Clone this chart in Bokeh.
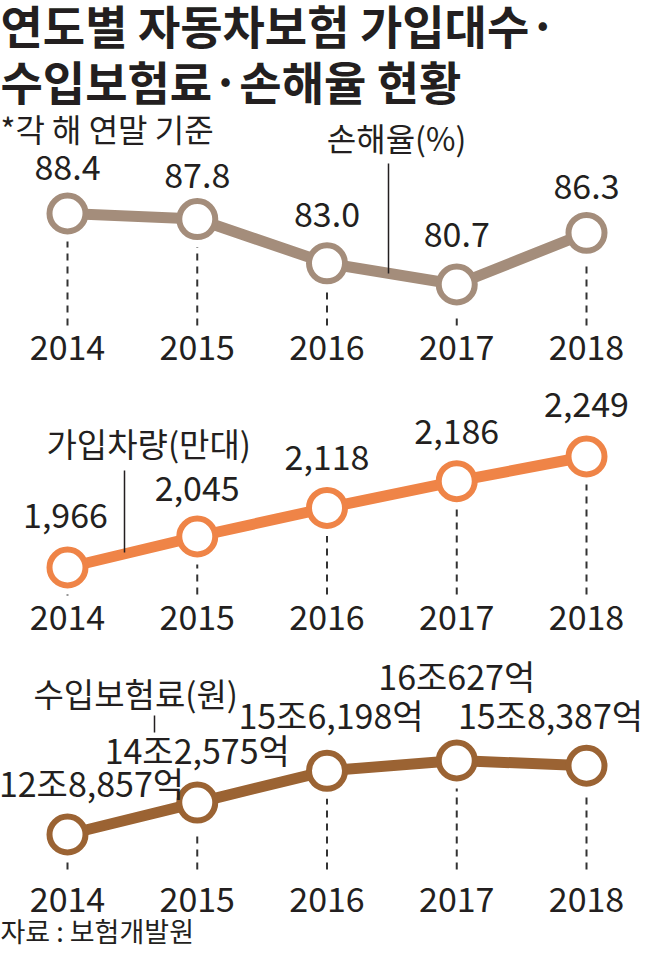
from bokeh.plotting import figure
from bokeh.models import Range1d, ColumnDataSource
from bokeh.core.properties import value
from bokeh.embed import file_html
from bokeh.resources import INLINE

# ---------------- data ----------------
years = [2014, 2015, 2016, 2017, 2018]
year_labels = ["2014", "2015", "2016", "2017", "2018"]

loss_ratio = [88.4, 87.8, 83.0, 80.7, 86.3]          # 손해율 (%)
loss_labels = ["88.4", "87.8", "83.0", "80.7", "86.3"]

cars = [1966, 2045, 2118, 2186, 2249]               # 가입차량 (만대)
car_labels = ["1,966", "2,045", "2,118", "2,186", "2,249"]

premium = [128857, 142575, 156198, 160627, 158387]  # 수입보험료 (억원)
premium_labels = ["12조8,857억", "14조2,575억", "15조6,198억", "16조627억", "15조8,387억"]

title_lines = ["연도별 자동차보험 가입대수·", "수입보험료·손해율 현황"]
subtitle = "*각 해 연말 기준"
source_text = "자료 : 보험개발원"
series_names = ["손해율(%)", "가입차량(만대)", "수입보험료(원)"]

# ---------------- layout / style ----------------
W, H = 645, 951
FONT = "Noto Sans CJK KR"
INK = "#231f20"
C_LOSS = "#a48d7b"
C_CARS = "#ef8447"
C_PREM = "#9b6333"
DASH_GAP = 28      # px between point centre and top of its drop line

X0, X1 = 67, 586   # pixel positions of first / last year
ppy = (X1 - X0) / (years[-1] - years[0])
x_range = Range1d(start=years[0] - X0 / ppy, end=years[0] + (W - X0) / ppy)


def panel(vals, top_px, bot_px):
    vmax, vmin = max(vals), min(vals)
    k = (vmax - vmin) / (bot_px - top_px)
    rng = Range1d(start=vmax - (H - top_px) * k, end=vmax + top_px * k)
    return rng, (lambda py: vmax - (py - top_px) * k), k


r_loss, f_loss, k_loss = panel(loss_ratio, 213, 284)
r_cars, f_cars, k_cars = panel(cars, 456, 567)
r_prem, f_prem, k_prem = panel(premium, 760, 834)

p = figure(width=W, height=H, x_range=x_range, y_range=Range1d(start=H, end=0),
           output_backend="svg", toolbar_location=None, min_border=0,
           x_axis_location=None, y_axis_location=None)
p.extra_x_ranges = {"px": Range1d(0, W)}
p.extra_y_ranges = {"loss": r_loss, "cars": r_cars, "prem": r_prem}
p.outline_line_color = None
p.grid.visible = False
p.background_fill_color = "white"


def txt(x, y, t, size, align="left", bold=False, color=INK, baseline="middle", **kw):
    p.text(x=x, y=y, text=t, text_font=value(FONT), text_font_size=value(size),
           text_align=align, text_baseline=baseline, text_color=color,
           text_font_style="bold" if bold else "normal", **kw)


# header
txt([0, 0], [23, 79], title_lines, "46px", bold=True, x_range_name="px")
txt([0], [127], [subtitle], "32px", x_range_name="px")

panels = [
    ("loss", loss_ratio, loss_labels, C_LOSS, f_loss, k_loss, 325, 347,
     [0, 0, 0, 0, 0], [-46, -44, -49, -50, -46]),
    ("cars", cars, car_labels, C_CARS, f_cars, k_cars, 594, 617,
     [-2, 0, 0, 0, 0], [-52, -48, -50, -50, -52]),
    ("prem", premium, premium_labels, C_PREM, f_prem, k_prem, 869, 899,
     [24, 0, 4, 0, -36], [-52, -53, -56, -85, -51]),
]

for name, vals, labels, color, fmap, k, base_px, year_px, xo, yo in panels:
    base = fmap(base_px)
    tops = [v - DASH_GAP * k for v in vals]
    p.segment(x0=years, y0=[base] * len(years), x1=years, y1=tops,
              line_color="#333333", line_width=2, line_dash="7 6",
              y_range_name=name)
    p.line(years, vals, line_color=color, line_width=11, line_join="round",
           y_range_name=name)
    p.scatter(years, vals, marker="circle", size=36, fill_color="white",
              line_color=color, line_width=6, y_range_name=name)
    src = ColumnDataSource(dict(x=years, y=vals, t=labels, xo=xo, yo=yo))
    p.text(x="x", y="y", text="t", source=src, x_offset="xo", y_offset="yo",
           text_font=value(FONT), text_font_size=value("34px"),
           text_align="center", text_baseline="middle", text_color=INK,
           y_range_name=name)
    txt(years, [year_px] * len(years), year_labels, "34px", align="center")

# series labels with leader lines
txt([396], [136], [series_names[0]], "32px", align="center", x_range_name="px")
txt([46], [442], [series_names[1]], "33px", x_range_name="px")
txt([33], [692], [series_names[2]], "33px", x_range_name="px")
p.segment(x0=[388, 124, 154], y0=[163, 470, 715], x1=[388, 124, 154],
          y1=[273, 552, 732], line_color=INK, line_width=1.5, x_range_name="px")

txt([0], [930], [source_text], "27px", x_range_name="px")

open("out.html", "w").write(file_html(p, INLINE))
